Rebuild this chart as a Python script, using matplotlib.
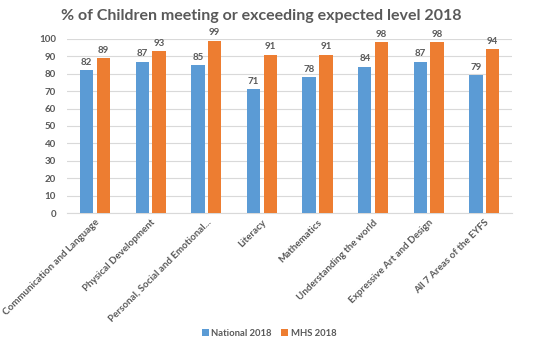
import matplotlib
matplotlib.use("Agg")
import matplotlib.pyplot as plt
import numpy as np

categories = ["Communication and Language", "Physical Development", "Personal, Social and Emotional...",
              "Literacy", "Mathematics", "Understanding the world", "Expressive Art and Design",
              "All 7 Areas of the EYFS"]
national = [82, 87, 85, 71, 78, 84, 87, 79]
mhs = [89, 93, 99, 91, 91, 98, 98, 94]
yticks = list(range(0, 101, 10))

plt.rcParams['font.family'] = ['Lato', 'DejaVu Sans']
txt = '#595959'
blue = '#5B9BD5'
orange = '#ED7D31'

fig = plt.figure(figsize=(5.33, 3.47), dpi=100)
ax = fig.add_axes([0.126, 0.386, 0.835, 0.502])
x = np.arange(len(categories))
w = 0.24
ax.bar(x - w/2 - 0.03, national, w, color=blue, label='National 2018', zorder=3)
ax.bar(x + w/2 + 0.03, mhs, w, color=orange, label='MHS 2018', zorder=3)
for xi, v in zip(x, national):
    ax.text(xi - w/2 - 0.03, v + 2, str(v), ha='center', va='bottom', fontsize=7, color=txt, fontweight='bold')
for xi, v in zip(x, mhs):
    ax.text(xi + w/2 + 0.03, v + 2, str(v), ha='center', va='bottom', fontsize=7, color=txt, fontweight='bold')

ax.set_xlim(-0.5, len(categories) - 0.5)
ax.set_ylim(0, 100)
ax.set_yticks(yticks)
ax.set_yticklabels([str(t) for t in yticks], fontsize=7, color=txt, fontweight='bold')
ax.set_xticks(x)
ax.set_xticklabels(categories, rotation=45, ha='right', rotation_mode='anchor', fontsize=7, color=txt, fontweight='bold')
ax.tick_params(axis='both', length=0)
ax.tick_params(axis='y', pad=8)
ax.grid(axis='y', color='#D9D9D9', linewidth=0.8, zorder=0)
for s in ['top', 'right', 'left']:
    ax.spines[s].set_visible(False)
ax.spines['bottom'].set_color('#D9D9D9')

fig.text(0.49, 0.955, '% of Children meeting or exceeding expected level 2018', ha='center', va='center',
         fontsize=11.5, color=txt, fontweight='bold')
fig.legend(loc='center', bbox_to_anchor=(0.505, 0.04), ncol=2, frameon=False,
           handlelength=0.7, handleheight=0.7, columnspacing=1.0, handletextpad=0.3,
           labelcolor=txt, prop={'weight': 'bold', 'size': 6.8})
fig.savefig('out.png', dpi=100)
